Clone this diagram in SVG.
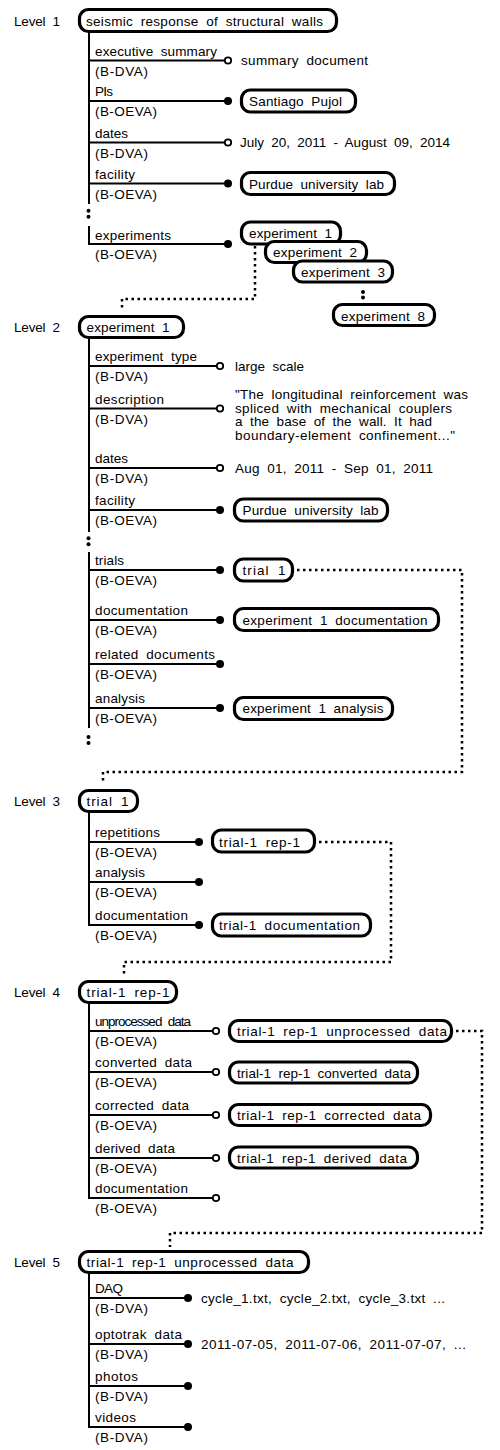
<svg xmlns="http://www.w3.org/2000/svg" width="500" height="1450" viewBox="0 0 500 1450">
<style>
text{font-family:"Liberation Sans",Arial,sans-serif;font-size:13.5px;word-spacing:3.5px;fill:#000}
.pill{fill:#fff;stroke:#000;stroke-width:3.2}
.ln{stroke:#000;stroke-width:2;fill:none}
.dot{stroke:#000;stroke-width:2.5;fill:none;stroke-dasharray:2.5 3.5}
.oc{fill:#fff;stroke:#000;stroke-width:1.8}
.fc{fill:#000}
</style>
<rect width="500" height="1450" fill="#fff"/>
<g id="connectors">
<!-- Level 1 -->
<path class="ln" d="M89 32V204M89 226V244H228M89 60.5H228M89 101H228M89 142.5H228M89 183.5H228"/>
<circle class="fc" cx="88.5" cy="210.7" r="2"/><circle class="fc" cx="88.5" cy="216.7" r="2"/>
<circle class="oc" cx="228" cy="60.5" r="3.2"/>
<circle class="fc" cx="228" cy="101" r="4"/>
<circle class="oc" cx="228" cy="142.5" r="3.2"/>
<circle class="fc" cx="228" cy="183.5" r="4"/>
<circle class="fc" cx="228" cy="244" r="4"/>
<text x="95" y="55.5" textLength="122">executive summary</text><text x="95" y="75.5" textLength="53">(B-DVA)</text>
<text x="95" y="96" textLength="18">PIs</text><text x="95" y="116" textLength="62">(B-OEVA)</text>
<text x="95" y="137.5" textLength="33">dates</text><text x="95" y="157.5" textLength="53">(B-DVA)</text>
<text x="95" y="178.5" textLength="40">facility</text><text x="95" y="198.5" textLength="62">(B-OEVA)</text>
<text x="95" y="239.5" textLength="76">experiments</text><text x="95" y="259" textLength="62">(B-OEVA)</text>
<path class="dot" d="M255 246V299H122V311"/>
<!-- Level 2 -->
<path class="ln" d="M89 338V532M89 552V728M89 366H220M89 408.5H220M89 468H220M89 510H220M89 570H220M89 620H220M89 664H220M89 708H220"/>
<circle class="fc" cx="88.5" cy="538.3" r="2"/><circle class="fc" cx="88.5" cy="544.3" r="2"/>
<circle class="fc" cx="88.5" cy="737" r="2"/><circle class="fc" cx="88.5" cy="743" r="2"/>
<circle class="oc" cx="220" cy="366" r="3.2"/>
<circle class="oc" cx="220" cy="408.5" r="3.2"/>
<circle class="oc" cx="220" cy="468" r="3.2"/>
<circle class="fc" cx="220" cy="510" r="4"/>
<circle class="fc" cx="220" cy="570" r="4"/>
<circle class="fc" cx="220" cy="620" r="4"/>
<circle class="fc" cx="220" cy="664" r="4"/>
<circle class="fc" cx="220" cy="708" r="4"/>
<text x="95" y="361" textLength="102">experiment type</text><text x="95" y="381" textLength="53">(B-DVA)</text>
<text x="95" y="403.5" textLength="69">description</text><text x="95" y="423.5" textLength="53">(B-DVA)</text>
<text x="95" y="463" textLength="33">dates</text><text x="95" y="483" textLength="53">(B-DVA)</text>
<text x="95" y="505" textLength="40">facility</text><text x="95" y="525" textLength="62">(B-OEVA)</text>
<text x="95" y="565" textLength="29">trials</text><text x="95" y="585" textLength="62">(B-OEVA)</text>
<text x="95" y="615" textLength="93">documentation</text><text x="95" y="635" textLength="62">(B-OEVA)</text>
<text x="95" y="659" textLength="120">related documents</text><text x="95" y="679" textLength="62">(B-OEVA)</text>
<text x="95" y="703" textLength="50">analysis</text><text x="95" y="723" textLength="62">(B-OEVA)</text>
<path class="dot" d="M297 570H462V772H103V784"/>
<!-- Level 3 -->
<path class="ln" d="M89 813V925H199M89 842H199M89 882H199"/>
<circle class="fc" cx="199" cy="842" r="4"/>
<circle class="fc" cx="199" cy="882" r="4"/>
<circle class="fc" cx="199" cy="925" r="4"/>
<text x="95" y="837" textLength="65">repetitions</text><text x="95" y="857" textLength="62">(B-OEVA)</text>
<text x="95" y="877" textLength="50">analysis</text><text x="95" y="897" textLength="62">(B-OEVA)</text>
<text x="95" y="920" textLength="93">documentation</text><text x="95" y="940" textLength="62">(B-OEVA)</text>
<path class="dot" d="M319 842H391V962H124V975"/>
<!-- Level 4 -->
<path class="ln" d="M89 1003V1198H216M89 1031H216M89 1072H216M89 1115H216M89 1158H216"/>
<circle class="oc" cx="216" cy="1031" r="3.2"/>
<circle class="oc" cx="216" cy="1072" r="3.2"/>
<circle class="oc" cx="216" cy="1115" r="3.2"/>
<circle class="oc" cx="216" cy="1158" r="3.2"/>
<circle class="oc" cx="216" cy="1198" r="3.2"/>
<text x="95" y="1026" textLength="96">unprocessed data</text><text x="95" y="1046" textLength="62">(B-OEVA)</text>
<text x="95" y="1067" textLength="97">converted data</text><text x="95" y="1087" textLength="62">(B-OEVA)</text>
<text x="95" y="1110" textLength="94">corrected data</text><text x="95" y="1130" textLength="62">(B-OEVA)</text>
<text x="95" y="1153" textLength="80">derived data</text><text x="95" y="1173" textLength="62">(B-OEVA)</text>
<text x="95" y="1193" textLength="93">documentation</text><text x="95" y="1213" textLength="62">(B-OEVA)</text>
<path class="dot" d="M456 1031H482V1233H170V1247"/>
<!-- Level 5 -->
<path class="ln" d="M89 1274V1427H188M89 1298H188M89 1344H188M89 1386H188"/>
<circle class="fc" cx="188" cy="1298" r="4"/>
<circle class="fc" cx="188" cy="1344" r="4"/>
<circle class="fc" cx="188" cy="1386" r="4"/>
<circle class="fc" cx="188" cy="1427" r="4"/>
<text x="95" y="1293" textLength="28">DAQ</text><text x="95" y="1313" textLength="53">(B-DVA)</text>
<text x="95" y="1339" textLength="87">optotrak data</text><text x="95" y="1359" textLength="53">(B-DVA)</text>
<text x="95" y="1381" textLength="43">photos</text><text x="95" y="1401" textLength="53">(B-DVA)</text>
<text x="95" y="1422" textLength="41">videos</text><text x="95" y="1442" textLength="53">(B-DVA)</text>
</g>
<!-- Level labels -->
<g id="level-labels">
<text x="14" y="25.5" textLength="46">Level 1</text>
<text x="14" y="332" textLength="46">Level 2</text>
<text x="14" y="806" textLength="46">Level 3</text>
<text x="14" y="997" textLength="46">Level 4</text>
<text x="14" y="1267" textLength="46">Level 5</text>
</g>
<!-- Level 1 nodes -->
<g id="n-root"><rect class="pill" x="79.5" y="9.5" width="257" height="22" rx="9"/><text x="86" y="25.5" textLength="237">seismic response of structural walls</text></g>
<g id="n-summary"><text x="241" y="65" textLength="127">summary document</text></g>
<g id="n-pujol"><rect class="pill" x="241.5" y="90" width="114" height="22" rx="9"/><text x="249" y="106" textLength="93">Santiago Pujol</text></g>
<g id="n-dates1"><text x="240" y="147" textLength="210">July 20, 2011 - August 09, 2014</text></g>
<g id="n-purdue1"><rect class="pill" x="241.5" y="172.5" width="153" height="22" rx="9"/><text x="249" y="188.5" textLength="135">Purdue university lab</text></g>
<g id="n-exp1"><rect class="pill" x="241.5" y="222" width="99" height="22" rx="9"/><text x="249" y="238" textLength="83">experiment 1</text></g>
<g id="n-exp2"><rect class="pill" x="265.5" y="241.5" width="101" height="21" rx="9"/><text x="273" y="257" textLength="84">experiment 2</text></g>
<g id="n-exp3"><rect class="pill" x="293.5" y="261" width="99" height="21" rx="9"/><text x="301" y="276.5" textLength="84">experiment 3</text></g>
<g id="n-expdots"><circle class="fc" cx="363" cy="292" r="2"/><circle class="fc" cx="363" cy="297.5" r="2"/></g>
<g id="n-exp8"><rect class="pill" x="333.5" y="304.5" width="101" height="21" rx="9"/><text x="341" y="320.5" textLength="84">experiment 8</text></g>
<!-- Level 2 nodes -->
<g id="n-l2"><rect class="pill" x="79.5" y="316.5" width="104" height="21" rx="9"/><text x="86.5" y="332" textLength="83">experiment 1</text></g>
<g id="n-large"><text x="235" y="370.5" textLength="69">large scale</text></g>
<g id="n-desc"><text x="235" y="399" textLength="233">"The longitudinal reinforcement was</text><text x="235" y="412.7" textLength="217">spliced with mechanical couplers</text><text x="235" y="426.4" textLength="197">a the base of the wall. It had</text><text x="235" y="440" textLength="220">boundary-element confinement..."</text></g>
<g id="n-dates2"><text x="235" y="472.5" textLength="198">Aug 01, 2011 - Sep 01, 2011</text></g>
<g id="n-purdue2"><rect class="pill" x="234.5" y="499" width="153" height="22" rx="9"/><text x="242.5" y="515" textLength="136">Purdue university lab</text></g>
<g id="n-trial1"><rect class="pill" x="234.5" y="559" width="58" height="22" rx="9"/><text x="242.5" y="575" textLength="43">trial 1</text></g>
<g id="n-expdoc"><rect class="pill" x="234.5" y="608.5" width="204" height="22" rx="9"/><text x="242.5" y="624.5" textLength="185">experiment 1 documentation</text></g>
<g id="n-expana"><rect class="pill" x="234.5" y="697.5" width="158" height="22" rx="9"/><text x="242.5" y="713" textLength="141">experiment 1 analysis</text></g>
<!-- Level 3 nodes -->
<g id="n-l3"><rect class="pill" x="79.5" y="790.5" width="58" height="21" rx="9"/><text x="86.5" y="806" textLength="42">trial 1</text></g>
<g id="n-rep1"><rect class="pill" x="212.5" y="830" width="102" height="22" rx="9"/><text x="219" y="846.5" textLength="81">trial-1 rep-1</text></g>
<g id="n-t1doc"><rect class="pill" x="212.5" y="914" width="158" height="22" rx="9"/><text x="219" y="930" textLength="141">trial-1 documentation</text></g>
<!-- Level 4 nodes -->
<g id="n-l4"><rect class="pill" x="79.5" y="981.5" width="97" height="21" rx="9"/><text x="86.5" y="997" textLength="83">trial-1 rep-1</text></g>
<g id="n-unproc"><rect class="pill" x="229.5" y="1020.5" width="222" height="21" rx="9"/><text x="237" y="1036" textLength="210">trial-1 rep-1 unprocessed data</text></g>
<g id="n-conv"><rect class="pill" x="229.5" y="1062" width="188" height="21" rx="9"/><text x="237" y="1077.5" textLength="174">trial-1 rep-1 converted data</text></g>
<g id="n-corr"><rect class="pill" x="229.5" y="1104.5" width="201" height="21" rx="9"/><text x="237" y="1120" textLength="184">trial-1 rep-1 corrected data</text></g>
<g id="n-deriv"><rect class="pill" x="229.5" y="1147" width="188" height="21" rx="9"/><text x="237" y="1162.5" textLength="170">trial-1 rep-1 derived data</text></g>
<!-- Level 5 nodes -->
<g id="n-l5"><rect class="pill" x="79.5" y="1251.5" width="229" height="21" rx="9"/><text x="86.5" y="1267" textLength="207">trial-1 rep-1 unprocessed data</text></g>
<g id="n-daq"><text x="201" y="1302.5" textLength="244">cycle_1.txt, cycle_2.txt, cycle_3.txt ...</text></g>
<g id="n-opto"><text x="201" y="1348.5" textLength="265">2011-07-05, 2011-07-06, 2011-07-07, ...</text></g>
</svg>
